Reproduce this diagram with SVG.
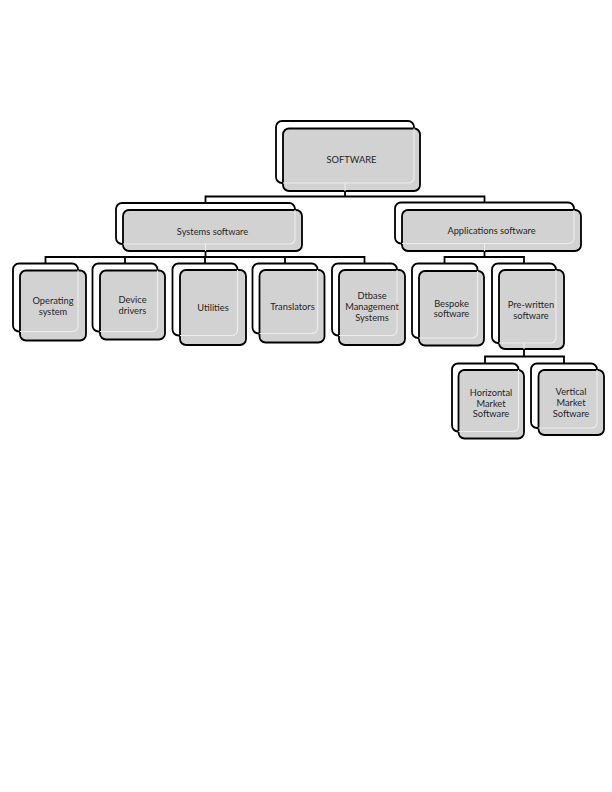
<svg xmlns="http://www.w3.org/2000/svg" width="612" height="792" viewBox="0 0 612 792">
<style>
.back{fill:#fff;stroke:#000;stroke-width:1.8}
.front{fill:#d2d2d2;stroke:#000;stroke-width:1.8}
.ghost{fill:none;stroke:#ececec;stroke-width:1.2}
.conn{fill:none;stroke:#000;stroke-width:1.8}
text{font-family:Lato,"Liberation Sans",sans-serif;font-size:9.3px;fill:#262626;text-anchor:middle}
</style>
<rect width="612" height="792" fill="#fff"/>
<g id="connectors">
<path class="conn" d="M205.5,203 V196.5 H484.5 V202.5 M345,183 V196.5"/>
<path class="conn" d="M45.5,263.5 V257 H364.5 V263.5 M125,257 V263.5 M205,257 V263.5 M285,257 V263.5 M205.5,244 V257"/>
<path class="conn" d="M444.5,263.5 V257 H524 V263.5 M484.5,243.5 V257"/>
<path class="conn" d="M485,363.5 V356.5 H564 V363.5 M524,343 V356.5"/>
</g>
<g id="software">
<rect class="back" x="276" y="121" width="138" height="62" rx="6"/>
<rect class="front" x="283" y="128.5" width="137" height="62.5" rx="6"/>
<path class="ghost" d="M414,128.5 V177 Q414,183 408,183 H283 M345,183 V191"/>
<text x="351.5" y="162.8">SOFTWARE</text>
</g>
<g id="systems">
<rect class="back" x="116" y="203" width="179" height="41" rx="6"/>
<rect class="front" x="123" y="210" width="179" height="41" rx="6"/>
<path class="ghost" d="M295,210 V238 Q295,244 289,244 H123 M205.5,244 V251"/>
<text x="212.5" y="234.5">Systems software</text>
</g>
<g id="applications">
<rect class="back" x="395" y="202.5" width="179" height="41" rx="6"/>
<rect class="front" x="402" y="210" width="179" height="41" rx="6"/>
<path class="ghost" d="M574,210 V237.5 Q574,243.5 568,243.5 H402 M484.5,243.5 V251"/>
<text x="491.5" y="234">Applications software</text>
</g>
<g id="operating">
<rect class="back" x="13" y="263.5" width="65" height="68" rx="6"/>
<rect class="front" x="20" y="270.5" width="66" height="70" rx="6"/>
<path class="ghost" d="M78,270.5 V325.5 Q78,331.5 72,331.5 H20"/>
<text x="53" y="304"><tspan x="53">Operating</tspan><tspan x="53" dy="10.6">system</tspan></text>
</g>
<g id="device">
<rect class="back" x="92.5" y="263.5" width="65" height="68" rx="6"/>
<rect class="front" x="100" y="270.5" width="65" height="69" rx="6"/>
<path class="ghost" d="M157.5,270.5 V325.5 Q157.5,331.5 151.5,331.5 H100"/>
<text x="132.5" y="302.5"><tspan x="132.5">Device</tspan><tspan x="132.5" dy="11">drivers</tspan></text>
</g>
<g id="utilities">
<rect class="back" x="172.5" y="263.5" width="65" height="72" rx="6"/>
<rect class="front" x="180" y="270" width="66" height="75" rx="6"/>
<path class="ghost" d="M237.5,270 V329.5 Q237.5,335.5 231.5,335.5 H180"/>
<text x="213" y="311">Utilities</text>
</g>
<g id="translators">
<rect class="back" x="252.5" y="263.5" width="65" height="70" rx="6"/>
<rect class="front" x="259.5" y="270" width="65" height="72.5" rx="6"/>
<path class="ghost" d="M317.5,270 V327.5 Q317.5,333.5 311.5,333.5 H259.5"/>
<text x="292.5" y="310">Translators</text>
</g>
<g id="dtbase">
<rect class="back" x="332" y="263.5" width="65" height="72" rx="6"/>
<rect class="front" x="339" y="270" width="66" height="75" rx="6"/>
<path class="ghost" d="M397,270 V329.5 Q397,335.5 391,335.5 H339"/>
<text x="372" y="299"><tspan x="372">Dtbase</tspan><tspan x="372" dy="11.2">Management</tspan><tspan x="372" dy="11.2">Systems</tspan></text>
</g>
<g id="bespoke">
<rect class="back" x="412" y="263.5" width="65.5" height="74.5" rx="6"/>
<rect class="front" x="419" y="271" width="65" height="74.5" rx="6"/>
<path class="ghost" d="M477.5,271 V332 Q477.5,338 471.5,338 H419"/>
<text x="451.5" y="306.6"><tspan x="451.5">Bespoke</tspan><tspan x="451.5" dy="10.7">software</tspan></text>
</g>
<g id="prewritten">
<rect class="back" x="492" y="263.5" width="64" height="79.5" rx="6"/>
<rect class="front" x="499" y="270" width="65" height="79" rx="6"/>
<path class="ghost" d="M556,270 V337 Q556,343 550,343 H499 M524,343 V349"/>
<text x="531" y="308.3"><tspan x="531">Pre-written</tspan><tspan x="531" dy="10.7">software</tspan></text>
</g>
<g id="horizontal">
<rect class="back" x="452" y="363.5" width="66.5" height="68" rx="6"/>
<rect class="front" x="458.5" y="370" width="65.5" height="68.5" rx="6"/>
<path class="ghost" d="M518.5,370 V425.5 Q518.5,431.5 512.5,431.5 H458.5"/>
<text x="491" y="396"><tspan x="491">Horizontal</tspan><tspan x="491" dy="10.7">Market</tspan><tspan x="491" dy="10.7">Software</tspan></text>
</g>
<g id="vertical">
<rect class="back" x="531" y="363.5" width="66" height="64.5" rx="6"/>
<rect class="front" x="538.5" y="370" width="65.5" height="65" rx="6"/>
<path class="ghost" d="M597,370 V422 Q597,428 591,428 H538.5"/>
<text x="571" y="395"><tspan x="571">Vertical</tspan><tspan x="571" dy="10.8">Market</tspan><tspan x="571" dy="10.8">Software</tspan></text>
</g>
</svg>
